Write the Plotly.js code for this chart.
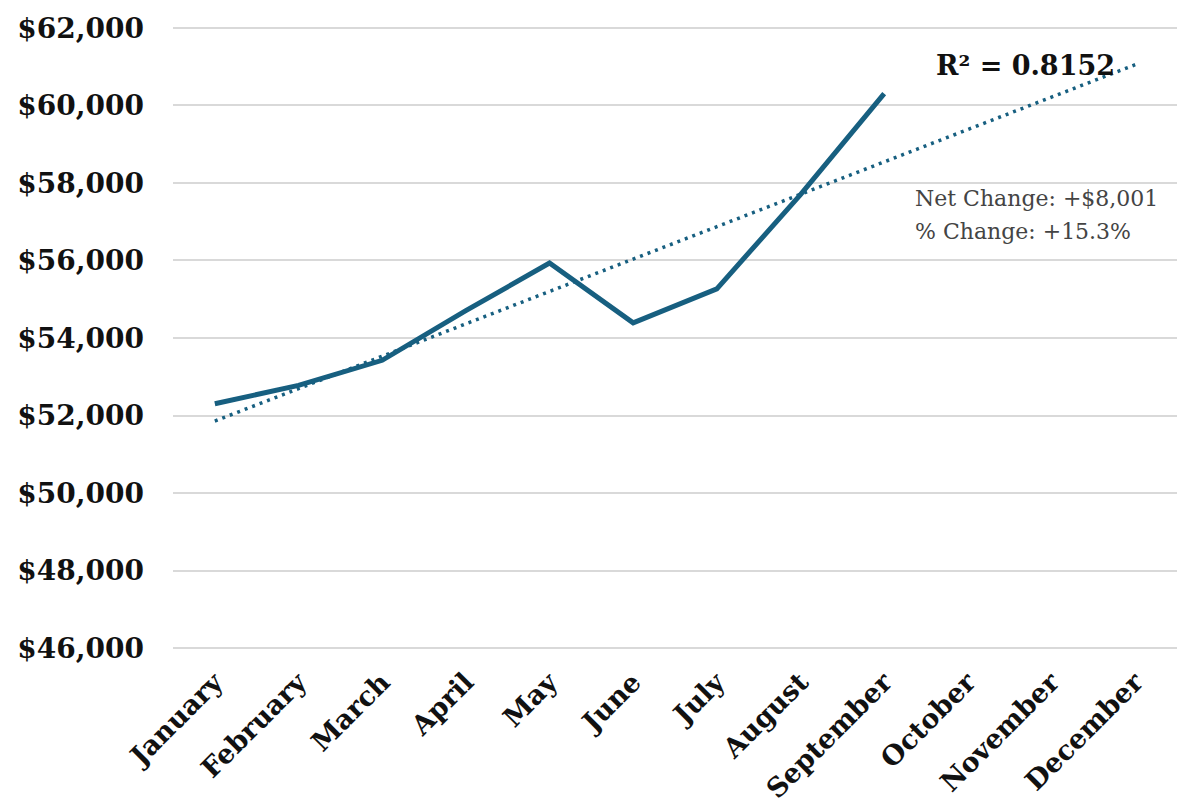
<!DOCTYPE html>
<html>
<head>
<meta charset="utf-8">
<script src="https://cdn.plot.ly/plotly-3.0.1.min.js"></script>
<style>html,body{margin:0;padding:0;background:#fff;}#chart{width:1183px;height:807px;}</style>
</head>
<body>
<div id="chart"></div>
<script>
var months = ["January","February","March","April","May","June","July","August","September","October","November","December"];
var values = [52303, 52777, 53425, 54707, 55933, 54390, 55269, 57700, 60304];
var yTickVals = [46000, 48000, 50000, 52000, 54000, 56000, 58000, 60000, 62000];
var yTickText = ["$46,000","$48,000","$50,000","$52,000","$54,000","$56,000","$58,000","$60,000","$62,000"];
var rSquaredText = "R\u00B2 = 0.8152";
var netChangeText = "Net Change: +$8,001";
var pctChangeText = "% Change: +15.3%";

// linear trendline (least squares over observed months), extended across all months
var n = values.length, sx = 0, sy = 0, sxx = 0, sxy = 0;
for (var i = 0; i < n; i++) { sx += i; sy += values[i]; sxx += i * i; sxy += i * values[i]; }
var slope = (n * sxy - sx * sy) / (n * sxx - sx * sx);
var intercept = (sy - slope * sx) / n;
var trendY = months.map(function (m, i) { return intercept + slope * i; });

var lineColor = "#175f80";
var serif = "DejaVu Serif, Liberation Serif, serif";

var data = [
  { x: months, y: trendY, type: "scatter", mode: "lines",
    line: { color: lineColor, width: 3.5, dash: "3px,5px" }, hoverinfo: "skip" },
  { x: months.slice(0, n), y: values, type: "scatter", mode: "lines",
    line: { color: lineColor, width: 5 } }
];

var layout = {
  width: 1183, height: 807,
  margin: { l: 173, r: 6, t: 26, b: 157 },
  paper_bgcolor: "#fff", plot_bgcolor: "#fff",
  showlegend: false,
  xaxis: {
    type: "category", categoryorder: "array", categoryarray: months,
    range: [-0.5, 11.5], tickangle: -45, showgrid: false, zeroline: false,
    showline: false, ticks: "", ticklabelstandoff: 10,
    tickfont: { family: serif, size: 27, color: "#111", weight: "bold" }
  },
  yaxis: {
    range: [45950, 62050], tickvals: yTickVals, ticktext: yTickText,
    showgrid: true, gridcolor: "#d9d9d9", gridwidth: 2, zeroline: false,
    showline: false, ticks: "", ticklabelstandoff: 28,
    tickfont: { family: serif, size: 28, color: "#111", weight: "bold" }
  },
  annotations: [
    { xref: "paper", yref: "paper", x: 0.849, y: 0.936, xanchor: "center", yanchor: "middle",
      text: rSquaredText, showarrow: false,
      font: { family: serif, size: 27, color: "#111", weight: "bold" } },
    { xref: "paper", yref: "paper", x: 0.737, y: 0.724, xanchor: "left", yanchor: "middle", align: "left",
      text: netChangeText, showarrow: false,
      font: { family: serif, size: 22, color: "#444" } },
    { xref: "paper", yref: "paper", x: 0.737, y: 0.670, xanchor: "left", yanchor: "middle", align: "left",
      text: pctChangeText, showarrow: false,
      font: { family: serif, size: 22, color: "#444" } }
  ]
};

Plotly.newPlot("chart", data, layout, { displayModeBar: false, staticPlot: true });
</script>
</body>
</html>
